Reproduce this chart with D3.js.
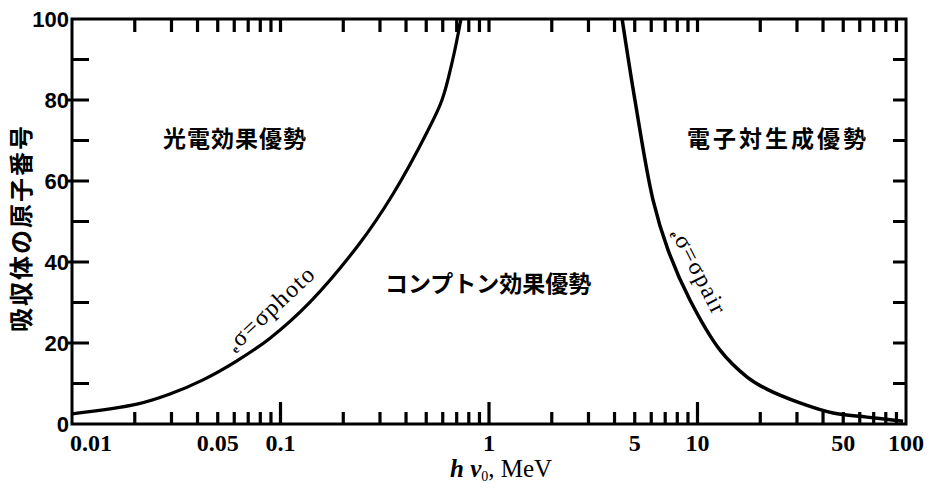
<!DOCTYPE html>
<meta charset="utf-8">
<head>
    <title>吸収体の原子番号</title>
    <script type="text/javascript" src="https://d3js.org/d3.v7.min.js"></script>
    <style>
        body { margin: 0; background: #fff; }
        .tick-label { font-family: "Liberation Serif", serif; font-weight: bold; font-size: 24px; }
        .y-label { font-family: "Liberation Sans", sans-serif; font-weight: bold; font-size: 22px; }
        .region { font-family: "Noto Sans CJK JP", sans-serif; font-weight: bold; font-size: 23px; }
        .curve-label { font-family: "Liberation Serif", serif; font-size: 24px; letter-spacing: 1.5px; }
    </style>
</head>

<body>
    <div id="chart"></div>

    <script>
        // photo = compton boundary (MeV, Z)
        var photoE = [0.01, 0.0205, 0.0295, 0.0425, 0.0618, 0.0891, 0.1385, 0.2405, 0.3465, 0.505, 0.595, 0.67, 0.734];
        var photoZ = [2.5, 4.9, 7.4, 10.9, 15.6, 21.2, 30.1, 44.7, 56.8, 72.1, 80, 90, 100];

        // compton = pair boundary (MeV, Z)
        var pairE = [4.35, 5.01, 6.12, 7.22, 9.2, 12.8, 17.3, 21.5, 31.0, 44.7, 65.0, 96.8];
        var pairZ = [100, 80, 55.3, 43, 30.6, 18.3, 11.6, 8.6, 5.2, 2.7, 1.7, 0.7];

        // axis labels
        var xLabelVals = [0.01, 0.05, 0.1, 1, 5, 10, 50, 100];
        var xLabels = ["0.01", "0.05", "0.1", "1", "5", "10", "50", "100"];
        var xMajor = [0.1, 1, 10];
        var yLabelVals = [0, 20, 40, 60, 80, 100];
        var yTickVals = [10, 20, 30, 40, 50, 60, 70, 80, 90];

        var width = 929;
        var height = 489;
        var margin = { top: 19, left: 72, bottom: 65, right: 23 };

        var svg = d3.select("#chart").append("svg")
                    .attr("width", width)
                    .attr("height", height);

        var x = d3.scaleLog().domain([0.01, 100]).range([margin.left, width - margin.right]);
        var y = d3.scaleLinear().domain([0, 100]).range([height - margin.bottom, margin.top]);

        // frame
        svg.append("rect")
           .attr("x", x(0.01)).attr("y", y(100))
           .attr("width", x(100) - x(0.01)).attr("height", y(0) - y(100))
           .attr("fill", "none").attr("stroke", "#000").attr("stroke-width", 3);

        // 2..9 of every decade, plus 0.1, 1, 10
        var minorX = x.ticks().filter(function(v) { return v > 0.01 && v < 100; });

        // tick marks, collected in one path string
        var tp = d3.path();
        minorX.forEach(function(d) {
            var len = xMajor.indexOf(d) >= 0 ? 22 : 12;
            tp.moveTo(x(d), y(0)); tp.lineTo(x(d), y(0) - len);
            tp.moveTo(x(d), y(100)); tp.lineTo(x(d), y(100) + 13);
        });
        yTickVals.forEach(function(d) {
            var x0 = d % 20 == 0 ? x(0.01) - 4 : x(0.01);
            tp.moveTo(x0, y(d)); tp.lineTo(x(0.01) + 17, y(d));
            tp.moveTo(x(100) - 13, y(d)); tp.lineTo(x(100), y(d));
        });
        var tickStr = tp.toString();

        // x tick labels
        svg.selectAll(".xl")
           .data(xLabelVals)
           .enter().append("text")
           .attr("class", "tick-label")
           .attr("x", function(d, i) { return i == 0 ? x(d) - 2 : x(d); })
           .attr("y", 451)
           .attr("text-anchor", function(d, i) { return i == 0 ? "start" : "middle"; })
           .text(function(d, i) { return xLabels[i]; });

        // y tick labels
        svg.selectAll(".yl")
           .data(yLabelVals)
           .enter().append("text")
           .attr("class", "y-label")
           .attr("x", x(0.01) - 3)
           .attr("y", function(d) { return y(d) + 8; })
           .attr("text-anchor", "end")
           .text(function(d) { return d; });

        // axis titles
        var xt = svg.append("text")
                    .attr("x", 450).attr("y", 477)
                    .attr("font-family", "Liberation Serif, serif")
                    .attr("font-size", 25);
        xt.append("tspan").attr("font-style", "italic").attr("font-weight", "bold").text("h");
        xt.append("tspan").attr("font-style", "italic").attr("font-weight", "bold").text(" ν");
        xt.append("tspan").attr("font-size", 14).attr("dy", 4).text("0");
        xt.append("tspan").attr("dy", -4).text(", MeV");

        svg.append("text")
           .attr("transform", "translate(30, 228) rotate(-90)")
           .attr("text-anchor", "middle")
           .attr("font-family", "Noto Sans CJK JP, sans-serif")
           .attr("font-weight", "bold")
           .attr("font-size", 24)
           .attr("letter-spacing", 2)
           .text("吸収体の原子番号");

        // curves
        var line = d3.line()
                     .x(function(d) { return x(d[0]); })
                     .y(function(d) { return y(d[1]); })
                     .curve(d3.curveCatmullRom);

        var photoPts = photoE.map(function(e, i) { return [e, photoZ[i]]; });
        var pairPts = pairE.map(function(e, i) { return [e, pairZ[i]]; });

        svg.append("path").datum(photoPts)
           .attr("d", function(d) { return line(d) + tickStr; })
           .attr("fill", "none")
           .attr("stroke", "#000").attr("stroke-width", 3.2);

        svg.append("path").datum(pairPts)
           .attr("d", line).attr("fill", "none")
           .attr("stroke", "#000").attr("stroke-width", 3.5);

        // region labels
        svg.append("text").attr("class", "region")
           .attr("x", 163).attr("y", 147).attr("letter-spacing", 1)
           .text("光電効果優勢");
        svg.append("text").attr("class", "region")
           .attr("x", 687).attr("y", 147).attr("letter-spacing", 3)
           .text("電子対生成優勢");
        svg.append("text").attr("class", "region")
           .attr("x", 385).attr("y", 292)
           .text("コンプトン効果優勢");

        // curve labels
        var cl = svg.append("text").attr("class", "curve-label")
                    .attr("transform", "translate(236, 354) rotate(-43)");
        cl.append("tspan").attr("font-size", 12).attr("font-weight", "bold").text("e");
        cl.append("tspan").attr("dy", -2).text("σ=σphoto");

        var cr = svg.append("text").attr("class", "curve-label")
                    .attr("transform", "translate(669, 234) rotate(63)");
        cr.append("tspan").attr("font-size", 12).attr("font-weight", "bold").text("e");
        cr.append("tspan").attr("dy", -2).text("σ=σpair");
    </script>

</body>

</html>
